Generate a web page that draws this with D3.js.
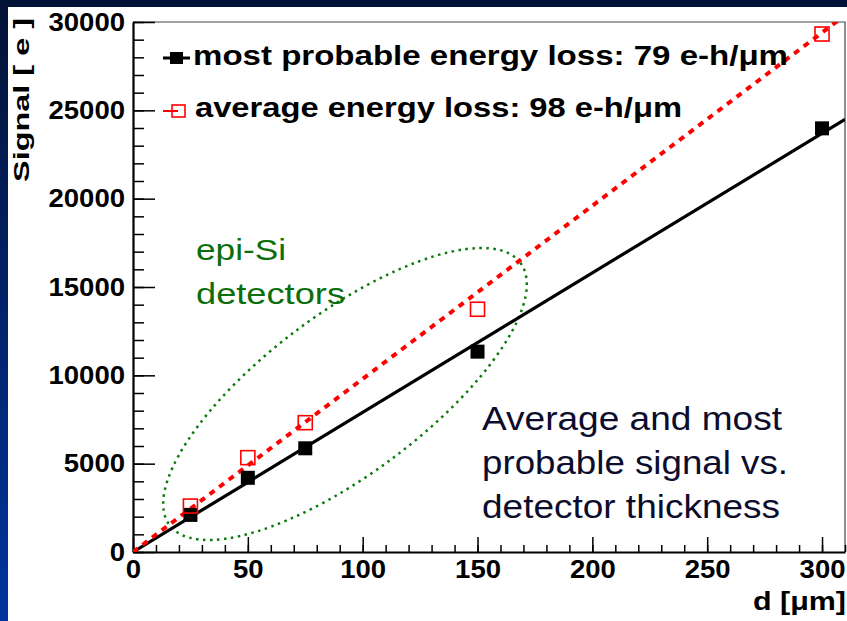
<!DOCTYPE html>
<html>
<head>
<meta charset="utf-8">
<script src="https://cdn.jsdelivr.net/npm/d3@7"></script>
<style>
html,body{margin:0;padding:0;background:#fff;}
svg{display:block;}
text{font-family:"Liberation Sans",Arial,Helvetica,sans-serif;}
</style>
</head>
<body>
<svg id="chart" width="847" height="621"></svg>
<script>
// ---- data ----
const thickness      = [25, 50, 75, 150, 300];            // d [um]
const mostProbable   = [2100, 4200, 5870, 11340, 23980];  // Signal [e]
const averageSignal  = [2600, 5340, 7320, 13740, 29320];  // Signal [e]
const fitX           = [0, 310];
const fitMostProbable= [0, 24490];   // 79 e-h/um fit
const fitAverage     = [0, 30380];   // 98 e-h/um fit
const xMajorTicks = [0, 50, 100, 150, 200, 250, 300];
const yMajorTicks = [0, 5000, 10000, 15000, 20000, 25000, 30000];
const xMinorTicks = d3.range(0, 311, 10);
const yMinorTicks = d3.range(0, 30001, 1000);
const legendLabels = ["most probable energy loss: 79 e-h/\u03bcm", "average energy loss: 98 e-h/\u03bcm"];
const noteLines = ["Average and most", "probable signal vs.", "detector thickness"];
const epiLines = ["epi-Si", "detectors"];

const svg = d3.select("#chart");
const W = 847, H = 621;
const L = 133, R = 845, T = 22, B = 552;

// background (slide)
const defs = svg.append("defs");
const grad = defs.append("linearGradient").attr("id","bg").attr("x1",0).attr("y1",0).attr("x2",0).attr("y2",1);
grad.append("stop").attr("offset","0%").attr("stop-color","#021236");
grad.append("stop").attr("offset","100%").attr("stop-color","#00349e");
svg.append("rect").attr("width",W).attr("height",H).attr("fill","url(#bg)");
svg.append("rect").attr("x",8).attr("y",7).attr("width",W-8).attr("height",H-7).attr("fill","#ffffff");

defs.append("clipPath").attr("id","plotclip").append("rect")
  .attr("x",L).attr("y",T).attr("width",R-L).attr("height",B-T);

const x = d3.scaleLinear().domain([0,310]).range([L,R]);
const y = d3.scaleLinear().domain([0,30000]).range([B,T]);

// frame top/right
svg.append("path").attr("d",`M${L},${T}H${R}V${B}`).attr("fill","none")
  .attr("stroke","#444").attr("stroke-width",1.2);

// minor ticks
svg.append("g").attr("transform",`translate(${L},0)`)
  .call(d3.axisLeft(y).tickValues(yMinorTicks).tickSizeInner(-11).tickSizeOuter(0).tickFormat(""))
  .call(g=>g.select(".domain").remove())
  .call(g=>g.selectAll("line").attr("stroke","#000").attr("stroke-width",1.5));
svg.append("g").attr("transform",`translate(0,${B})`)
  .call(d3.axisBottom(x).tickValues(xMinorTicks).tickSizeInner(-7).tickSizeOuter(0).tickFormat(""))
  .call(g=>g.select(".domain").remove())
  .call(g=>g.selectAll("line").attr("stroke","#000").attr("stroke-width",1.5));

// major axes
const styleLabels = sel => sel.attr("font-size",26).attr("font-weight","bold").attr("fill","#000")
  .style("font-family","'Liberation Sans',Arial,sans-serif")
  .attr("textLength",function(){ return this.textContent.length*15.3; })
  .attr("lengthAdjust","spacingAndGlyphs");

const yAxis = svg.append("g").attr("transform",`translate(${L},0)`)
  .call(d3.axisLeft(y).tickValues(yMajorTicks).tickSizeInner(-22).tickSizeOuter(0).tickPadding(8).tickFormat(d3.format("d")));
yAxis.select(".domain").attr("stroke","#000").attr("stroke-width",2.2);
yAxis.selectAll("line").attr("stroke","#000").attr("stroke-width",1.5);
yAxis.selectAll("text").call(styleLabels);

const xAxis = svg.append("g").attr("transform",`translate(0,${B})`)
  .call(d3.axisBottom(x).tickValues(xMajorTicks).tickSizeInner(-15).tickSizeOuter(0).tickPadding(8).tickFormat(d3.format("d")));
xAxis.select(".domain").attr("stroke","#000").attr("stroke-width",2.2);
xAxis.selectAll("line").attr("stroke","#000").attr("stroke-width",1.5);
xAxis.selectAll("text").call(styleLabels);

// axis titles
svg.append("text").attr("transform","translate(29,182) rotate(-90)")
  .attr("font-size",22).attr("font-weight","bold").attr("fill","#000")
  .attr("textLength",164).attr("lengthAdjust","spacingAndGlyphs")
  .text("Signal [ e ]");
svg.append("text").attr("x",753).attr("y",610)
  .attr("font-size",26).attr("font-weight","bold").attr("fill","#000")
  .attr("textLength",93).attr("lengthAdjust","spacingAndGlyphs")
  .text("d [\u03bcm]");

// plot content (clipped)
const plot = svg.append("g").attr("clip-path","url(#plotclip)");

// green dotted ellipse
plot.append("ellipse").attr("cx",345).attr("cy",394).attr("rx",219).attr("ry",80)
  .attr("transform","rotate(-36.8 345 394)")
  .attr("fill","none").attr("stroke","#0a7a0a").attr("stroke-width",2.5)
  .attr("stroke-dasharray","2.5,4.5");

const fitIdx = d3.range(fitX.length);
const line = (ys) => d3.line().x(i=>x(fitX[i])).y(i=>y(ys[i]))(fitIdx);

plot.append("path").attr("d",line(fitMostProbable)).attr("fill","none")
  .attr("stroke","#000").attr("stroke-width",3.2);
plot.append("path").attr("d",line(fitAverage)).attr("fill","none")
  .attr("stroke","#ff0000").attr("stroke-width",4).attr("stroke-dasharray","6,6");

const S = 14;
plot.selectAll("rect.mp").data(thickness).enter().append("rect").attr("class","mp")
  .attr("x",(d)=>x(d)-S/2).attr("y",(d,i)=>y(mostProbable[i])-S/2)
  .attr("width",S).attr("height",S).attr("fill","#000");
plot.selectAll("rect.av").data(thickness).enter().append("rect").attr("class","av")
  .attr("x",(d)=>x(d)-S/2).attr("y",(d,i)=>y(averageSignal[i])-S/2)
  .attr("width",S).attr("height",S).attr("fill","none").attr("stroke","#ff0000").attr("stroke-width",1.6);

// legend
svg.append("line").attr("x1",163).attr("x2",190).attr("y1",58).attr("y2",58).attr("stroke","#000").attr("stroke-width",3);
svg.append("rect").attr("x",170).attr("y",52).attr("width",13).attr("height",12).attr("fill","#000");
svg.append("line").attr("x1",163).attr("x2",178).attr("y1",111).attr("y2",111).attr("stroke","#ff0000").attr("stroke-width",2);
svg.append("rect").attr("x",172).attr("y",105).attr("width",13).attr("height",12).attr("fill","none").attr("stroke","#ff0000").attr("stroke-width",1.6);
const legW = [595, 487], legY = [65, 117], legX = [193, 195];
legendLabels.forEach((t,i)=>{
  svg.append("text").attr("x",legX[i]).attr("y",legY[i]).attr("font-size",28).attr("font-weight","bold")
    .attr("fill","#000").attr("textLength",legW[i]).attr("lengthAdjust","spacingAndGlyphs").text(t);
});

// epi-Si annotation
const epiW = [90, 149], epiY = [260, 304];
epiLines.forEach((t,i)=>{
  svg.append("text").attr("x",196).attr("y",epiY[i]).attr("font-size",30)
    .attr("fill","#0b6e0b").attr("textLength",epiW[i]).attr("lengthAdjust","spacingAndGlyphs").text(t);
});

// note
const noteW = [300, 306, 298], noteY = [430, 474, 518];
noteLines.forEach((t,i)=>{
  svg.append("text").attr("x",482).attr("y",noteY[i]).attr("font-size",34)
    .attr("fill","#0c0c2c").attr("textLength",noteW[i]).attr("lengthAdjust","spacingAndGlyphs").text(t);
});
</script>
</body>
</html>
